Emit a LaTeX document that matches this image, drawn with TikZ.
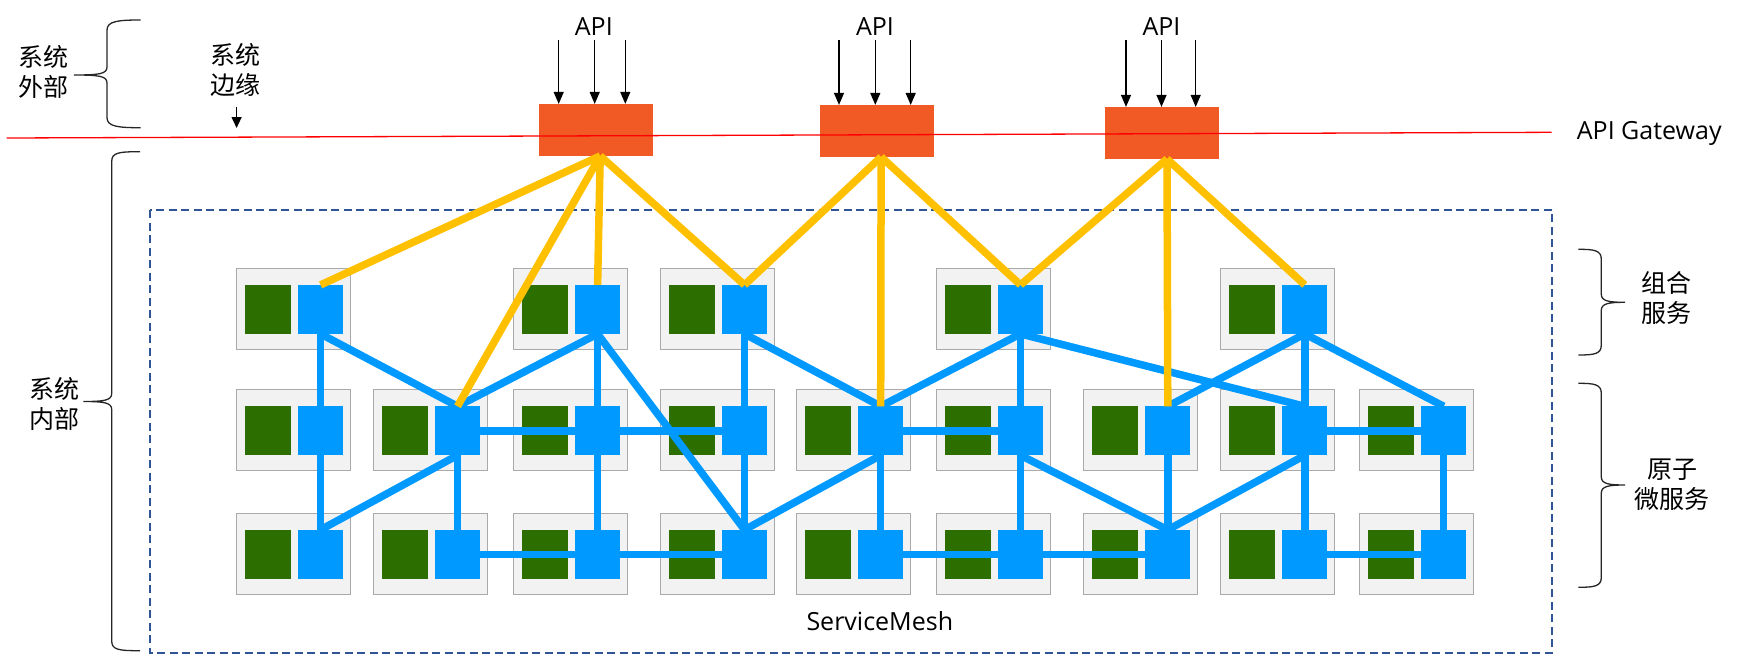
\documentclass[tikz,border=0pt]{standalone}
\usepackage{fontspec}
\setmainfont{Open Sans}
\newfontfamily\cjk{Noto Sans CJK SC}
\usetikzlibrary{arrows.meta}
\definecolor{cBlue}{RGB}{0,153,255}
\definecolor{cGreen}{RGB}{45,110,0}
\definecolor{cOrange}{RGB}{241,90,36}
\definecolor{cYellow}{RGB}{255,192,0}
\definecolor{cDash}{RGB}{47,85,151}
\definecolor{cBoxFill}{RGB}{242,242,242}
\definecolor{cBoxDraw}{RGB}{170,170,170}
\newcommand\mybraceL[6]{% ends x, spine x, tip x, tip y, top y, bottom y
  \draw[bracestyle] (#1,#5) .. controls (#1-22,#5) and (#2,#5+1) .. (#2,#5+10)
    -- (#2,#4-8) .. controls (#2,#4-1) and (#2-8,#4) .. (#3,#4)
    .. controls (#2-8,#4) and (#2,#4+1) .. (#2,#4+8)
    -- (#2,#6-10) .. controls (#2,#6-1) and (#1-22,#6) .. (#1,#6);}
\newcommand\mybraceR[6]{%
  \draw[bracestyle] (#1,#5) .. controls (#1+16,#5) and (#2,#5+1) .. (#2,#5+10)
    -- (#2,#4-8) .. controls (#2,#4-1) and (#2+8,#4) .. (#3,#4)
    .. controls (#2+8,#4) and (#2,#4+1) .. (#2,#4+8)
    -- (#2,#6-10) .. controls (#2,#6-1) and (#1+16,#6) .. (#1,#6);}
\begin{document}
\begin{tikzpicture}[x=1pt,y=-1pt,
  svcbox/.style={draw=cBoxDraw, fill=cBoxFill, line width=1.2pt, minimum width=114pt, minimum height=81pt, inner sep=0pt, outer sep=0pt},
  greensq/.style={fill=cGreen, minimum width=46pt, minimum height=49pt, inner sep=0pt, outer sep=0pt},
  bluesq/.style={fill=cBlue, minimum width=45pt, minimum height=49pt, inner sep=0pt, outer sep=0pt},
  apibox/.style={fill=cOrange, minimum width=114pt, minimum height=52pt, inner sep=0pt, outer sep=0pt},
  mesh/.style={cBlue, line width=7.5pt},
  gold/.style={cYellow, line width=7.5pt},
  lbl/.style={font=\cjk\fontsize{25}{30}\selectfont, align=center, inner sep=0pt},
  latin/.style={font=\fontsize{25}{30}\selectfont, inner sep=0pt},
  bracestyle/.style={draw=black!85, line width=1.3pt},
  inarrow/.style={black, line width=1.2pt, -{Triangle[width=10pt,length=12pt]}},
  redline/.style={red, line width=1.3pt},
  meshframe/.style={draw=cDash, line width=2pt, dash pattern=on 8pt off 4.5pt}]
\useasboundingbox (0,0) rectangle (1749,654);

% container
\draw[meshframe] (150,210) rectangle (1552,652.7);
\node[latin, anchor=base] (smlabel) at (879.8,630) {ServiceMesh};

% service units
\foreach \ro/\yy/\cols in {1/308.8/{1,3,4,6,8}, 2/430.2/{1,2,3,4,5,6,7,8,9}, 3/553.7/{1,2,3,4,5,6,7,8,9}}{
  \foreach \co in \cols {
    \pgfmathsetmacro{\lx}{{236.4,373.3,513.4,660.3,796.5,936.3,1083.6,1220.6,1359.5}[\co-1]}
    \node[svcbox] (s\ro\co) at (\lx+57,\yy) {};
    \node[greensq] (g\ro\co) at (\lx+31.8,\yy+0.6) {};
    \node[bluesq] (b\ro\co) at (\lx+84.2,\yy+0.6) {};
  }
}

% mesh: verticals
\foreach \co in {1,3,4,6,8} \draw[mesh] (b1\co.south) -- (b2\co.north);
\foreach \co in {1,...,9} \draw[mesh] (b2\co.south) -- (b3\co.north);
% mesh: horizontals
\foreach \a/\b in {2/3,3/4,5/6,8/9} \draw[mesh] (b2\a.east) -- (b2\b.west);
\foreach \a/\b in {2/3,3/4,5/6,6/7,8/9} \draw[mesh] (b3\a.east) -- (b3\b.west);
% mesh: diagonals
\draw[mesh] (b11.south) -- (b22.north);
\draw[mesh] (b22.north) -- (b13.south);
\draw[mesh] (b13.south) -- (b34.north);
\draw[mesh] (b14.south) -- (b25.north);
\draw[mesh] (b22.south) -- (b31.north);
\draw[mesh] (b34.north) -- (b25.south);
\draw[mesh] (b25.north) -- (b16.south);
\draw[mesh] (b16.south) -- (b28.north);
\draw[mesh] (b26.south) -- (b37.north);
\draw[mesh] (b27.north) -- (b18.south);
\draw[mesh] (b18.south) -- (b29.north);
\draw[mesh] (b28.south) -- (b37.north);

% API gateways
\node[apibox] (api1) at (596.2,129.9) {};
\node[apibox] (api2) at (876.6,130.9) {};
\node[apibox] (api3) at (1162,132.9) {};
\coordinate (gw1) at ([xshift=4pt]api1.south);
\coordinate (gw2) at ([xshift=4.5pt]api2.south);
\coordinate (gw3) at ([xshift=5pt]api3.south);

% yellow links
\foreach \t in {b11,b22,b13,b14} \draw[gold] (gw1) -- (\t.north);
\foreach \t in {b14,b25,b16} \draw[gold] (gw2) -- (\t.north);
\foreach \t in {b16,b27,b18} \draw[gold] (gw3) -- (\t.north);

% API labels and incoming arrows
\node[latin] (apil1) at (593.8,26.7) {API};
\node[latin] (apil2) at (875,26.7) {API};
\node[latin] (apil3) at (1161.5,26.7) {API};
\foreach \i/\xa/\xb/\xc in {1/558.7/594.7/625.3, 2/839/875.3/910.7, 3/1126/1161.5/1195.7}{
  \foreach \xx in {\xa,\xb,\xc}{
    \coordinate (t) at (\xx,40);
    \draw[inarrow] (t) -- (t |- api\i.north);
  }
}

% red gateway line
\coordinate (rl1) at (6.7,138);
\coordinate (rl2) at (1551.7,132.3);
\draw[redline] (rl1) -- (rl2);
\node[latin, anchor=base west] (gwlabel) at (1576.7,139) {API Gateway};

% left labels and braces
\node[lbl] (outside) at (43,72) {系统\\外部};
\node[lbl] (edge) at (235.5,70) {系统\\边缘};
\coordinate (ea1) at (236.6,106.7);
\coordinate (ea2) at (236.6,128);
\draw[black, line width=1.2pt, -{Triangle[width=10pt,length=11pt]}] (ea1) -- (ea2);
\node[lbl] (inside) at (54.5,404) {系统\\内部};
\mybraceL{140.6}{107}{74}{75}{20}{127.7}
\mybraceL{140}{111.7}{83.3}{401.5}{151.7}{650.7}

% right labels and braces
\mybraceR{1578.3}{1601.3}{1625}{302.3}{249.3}{355}
\mybraceR{1578.3}{1601.3}{1625}{485}{383.3}{587.3}
\node[lbl] (compose) at (1666,298.3) {组合\\服务};
\node[lbl] (atomic) at (1672,485) {原子\\微服务};
\end{tikzpicture}
\end{document}
